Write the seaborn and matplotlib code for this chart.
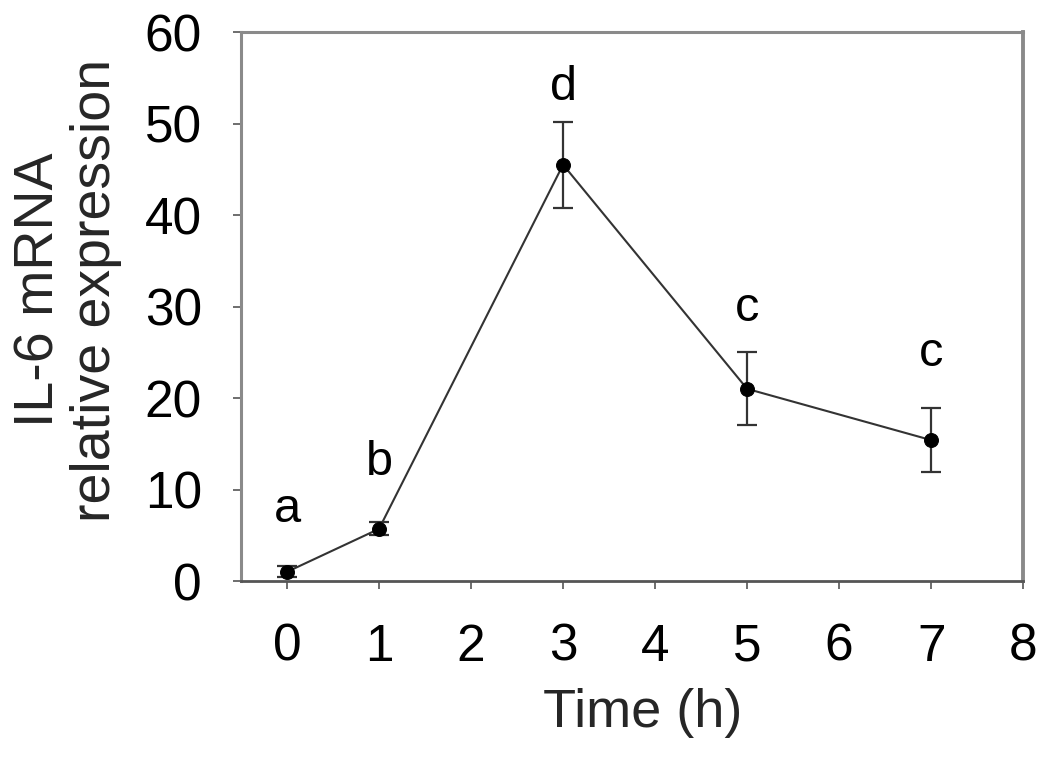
import matplotlib
matplotlib.use("Agg")
import matplotlib.pyplot as plt
import seaborn as sns
import pandas as pd

time_h = [0, 1, 3, 5, 7]
expression = [1.0, 5.7, 45.5, 21.0, 15.4]
sem = [0.6, 0.7, 4.7, 4.0, 3.5]
letters = ["a", "b", "d", "c", "c"]
letter_y = [7.8, 13.0, 53.9, 29.8, 24.9]
x_ticks = [0, 1, 2, 3, 4, 5, 6, 7, 8]
y_ticks = [0, 10, 20, 30, 40, 50, 60]

sns.set_theme(style="white")
plt.rcParams['font.family'] = ['Liberation Sans', 'DejaVu Sans']

df = pd.DataFrame({"Time (h)": time_h, "expr": expression, "sem": sem})

fig = plt.figure(figsize=(10.5, 7.62), dpi=100)
ax = fig.add_axes([0.2295, 0.2375, 0.745, 0.7205])

ax.errorbar(df["Time (h)"], df["expr"], yerr=df["sem"], fmt="none",
            ecolor="#333333", elinewidth=1.6, capsize=7, capthick=1.6, zorder=2)
sns.lineplot(data=df, x="Time (h)", y="expr", ax=ax, color="#333333",
             linewidth=1.5, marker="o", markersize=10, markerfacecolor="black",
             markeredgecolor="black", zorder=3)

for xv, lv, yv in zip(time_h, letters, letter_y):
    ax.text(xv, yv, lv, ha="center", va="center", fontsize=35, color="black")

ax.set_xlim(-0.5, 8)
ax.set_ylim(0, 60)
ax.set_xticks(x_ticks)
ax.set_yticks(y_ticks)
ax.tick_params(axis="both", which="major", labelsize=37, colors="#555555",
               labelcolor="black", direction="out", length=6, width=1.2,
               bottom=True, left=True)
ax.tick_params(axis="x", pad=24)
ax.tick_params(axis="y", pad=22)

for side in ["top", "right", "left"]:
    ax.spines[side].set_color("#8a8a8a")
    ax.spines[side].set_linewidth(2.2)
ax.spines["right"].set_linewidth(2.8)
ax.spines["bottom"].set_color("#555555")
ax.spines["bottom"].set_linewidth(2.0)

ax.set_xlabel("Time (h)", fontsize=39, va="top")
ax.xaxis.set_label_coords(0.513, -0.195)
ax.set_ylabel("IL-6 mRNA\nrelative expression", fontsize=40, va="center",
              linespacing=1.12)
ax.yaxis.set_label_coords(-0.221, 0.53)

fig.savefig("out.png", dpi=100, facecolor="white")
